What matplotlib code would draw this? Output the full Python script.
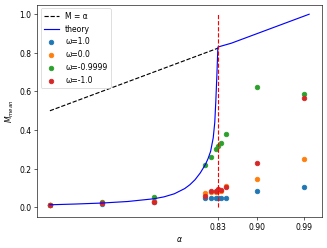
import matplotlib
matplotlib.use("Agg")
import matplotlib.pyplot as plt

# critical alpha (red dashed line), tick labelled 0.83
alpha_c = 0.824

# theory curve
alpha_th = [0.5, 0.55, 0.6, 0.65, 0.7, 0.72, 0.74, 0.76, 0.77, 0.78, 0.79, 0.80, 0.805,
            0.81, 0.815, 0.818, 0.82, 0.822, 0.824, 0.85, 0.9, 0.95, 1.0]
M_th = [0.013, 0.017, 0.022, 0.030, 0.044, 0.054, 0.070, 0.097, 0.117, 0.143, 0.178, 0.222, 0.252,
        0.29, 0.36, 0.44, 0.55, 0.68, 0.83, 0.85, 0.9, 0.95, 1.0]

# M = alpha reference line
alpha_ref = [0.5, alpha_c]

# simulation points
alphas = [0.5, 0.6, 0.7, 0.80, 0.81, 0.82, 0.825, 0.83, 0.84, 0.9, 0.99]
M_w1 = [0.011, 0.018, 0.025, 0.047, 0.046, 0.046, 0.047, 0.048, 0.05, 0.082, 0.104]
M_w0 = [0.013, 0.021, 0.035, 0.075, 0.078, 0.08, 0.085, 0.085, 0.11, 0.144, 0.248]
M_w9999 = [0.012, 0.027, 0.055, 0.217, 0.26, 0.303, 0.32, 0.331, 0.378, 0.623, 0.585]
M_wm1 = [0.014, 0.022, 0.028, 0.061, 0.082, 0.083, 0.097, 0.09, 0.106, 0.23, 0.568]

xticks = [alpha_c, 0.9, 0.99]
xtick_labels = ['0.83', '0.90', '0.99']

dpi = 55
fig = plt.figure(figsize=(327 / dpi, 248.4 / dpi), dpi=dpi)
ax = fig.add_axes([0.113, 0.125, 0.872, 0.855])

ax.plot(alpha_ref, alpha_ref, 'k--', label='M = α')
ax.plot(alpha_th, M_th, 'b-', label='theory')
ax.scatter(alphas, M_w1, label='ω=1.0')
ax.scatter(alphas, M_w0, label='ω=0.0')
ax.scatter(alphas, M_w9999, label='ω=-0.9999')
ax.scatter(alphas, M_wm1, label='ω=-1.0')
ax.vlines(alpha_c, 0, 1, colors='r', linestyles='--')

ax.set_xticks(xticks)
ax.set_xticklabels(xtick_labels)
ax.set_xlabel(r'$\alpha$')
ax.set_ylabel(r'$M_{mean}$')
ax.legend(loc='upper left')

fig.savefig('out.png', dpi=dpi)
